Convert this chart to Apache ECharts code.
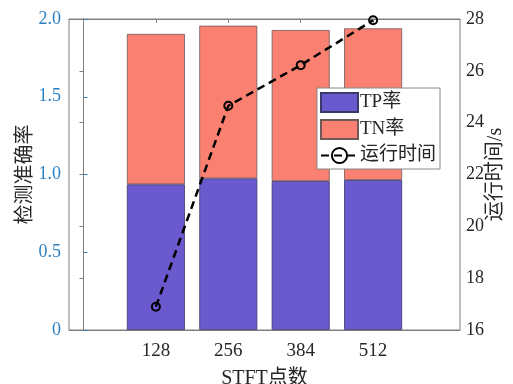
<!DOCTYPE html>
<html><head><meta charset="utf-8">
<script src="https://cdn.jsdelivr.net/npm/echarts@6/dist/echarts.min.js"></script>
<style>html,body{margin:0;padding:0;background:#fff}#c{width:513px;height:384px}</style>
</head><body><div id="c"></div>
<script>
const categories = ['128', '256', '384', '512'];
const tpRate = [0.937, 0.975, 0.958, 0.965];
const tnRate = [0.967, 0.982, 0.971, 0.975];
const runTime = [16.9, 24.65, 26.22, 27.95];
const leftTicks = [0, 0.5, 1.0, 1.5, 2.0];
const rightTicks = [16, 18, 20, 22, 24, 26, 28];

const pos = categories.map((c, i) => i + 1);
const serif = '"Liberation Serif", "Times New Roman", "Noto Sans CJK SC", serif';
const blue = '#2b7fc0';
const dark = '#262626';
const lineGray = '#808080';

const chart = echarts.init(document.getElementById('c'), null, {renderer: 'canvas'});
chart.setOption({
  animation: false,
  textStyle: {fontFamily: serif},
  grid: {left: 69, right: 53, top: 19, bottom: 54, show: true, borderColor: lineGray, borderWidth: 1,
    containLabel: false, outerBoundsMode: 'none'},
  legend: {
    left: 317, top: 88, orient: 'vertical',
    itemWidth: 37, itemHeight: 19, itemGap: 6,
    padding: [4, 4, 4, 3],
    backgroundColor: '#fff', borderColor: '#888', borderWidth: 1,
    textStyle: {fontFamily: serif, fontSize: 19, color: dark, padding: [0, 0, 0, -3]},
    data: [
      {name: 'TP率', icon: 'rect'},
      {name: 'TN率', icon: 'rect'},
      {name: '运行时间'}
    ]
  },
  xAxis: [{
    type: 'value', min: -0.2, max: 5.2,
    name: 'STFT点数', nameLocation: 'middle', nameGap: 39, nameMoveOverlap: false,
    nameTextStyle: {fontFamily: serif, fontSize: 20, color: dark},
    axisLine: {show: true, lineStyle: {color: lineGray}},
    axisTick: {show: true, inside: true, length: 4, customValues: pos, lineStyle: {color: lineGray}},
    axisLabel: {customValues: pos, margin: 12, fontSize: 19, color: dark, fontFamily: serif,
      formatter: v => categories[Math.round(v) - 1] || ''},
    splitLine: {show: false}
  }, {
    type: 'value', min: -0.2, max: 5.2, position: 'top',
    axisLine: {show: true, lineStyle: {color: lineGray}},
    axisTick: {show: true, inside: true, length: 4, customValues: pos, lineStyle: {color: lineGray}},
    axisLabel: {show: false},
    splitLine: {show: false}
  }],
  yAxis: [{
    type: 'value', min: 0, max: 2, interval: 0.5, position: 'left',
    name: '检测准确率', nameLocation: 'middle', nameGap: 33, nameRotate: 90, nameMoveOverlap: false,
    nameTextStyle: {fontFamily: serif, fontSize: 20, color: dark},
    axisLine: {show: true, lineStyle: {color: blue}},
    axisTick: {show: true, inside: true, length: 4, lineStyle: {color: blue}},
    axisLabel: {margin: 8, fontSize: 18, color: blue, fontFamily: serif,
      formatter: v => (leftTicks.indexOf(v) >= 0 ? (v === 0 ? '0' : v.toFixed(1)) : '')},
    splitLine: {show: false}
  }, {
    type: 'value', min: 16, max: 28, interval: 2, position: 'right',
    name: '运行时间/s', nameLocation: 'middle', nameGap: 26, nameRotate: 90, nameMoveOverlap: false,
    nameTextStyle: {fontFamily: serif, fontSize: 20, color: dark},
    axisLine: {show: true, lineStyle: {color: lineGray}},
    axisTick: {show: true, inside: true, length: 4, lineStyle: {color: lineGray}},
    axisLabel: {margin: 6, fontSize: 18, color: dark, fontFamily: serif,
      formatter: v => (rightTicks.indexOf(v) >= 0 ? String(v) : '')},
    splitLine: {show: false}
  }],
  series: [{
    name: 'TP率', type: 'bar', stack: 'acc', xAxisIndex: 0, yAxisIndex: 0,
    barWidth: 58,
    dimensions: ['rate', 'pos'], encode: {x: 'pos', y: 'rate'},
    itemStyle: {color: '#6a5acd', borderColor: '#3a3a6a', borderWidth: 0.8},
    data: pos.map((p, i) => [tpRate[i], p])
  }, {
    name: 'TN率', type: 'bar', stack: 'acc', xAxisIndex: 0, yAxisIndex: 0,
    barWidth: 58,
    dimensions: ['rate', 'pos'], encode: {x: 'pos', y: 'rate'},
    itemStyle: {color: '#fa8072', borderColor: '#6e5a58', borderWidth: 0.8},
    data: pos.map((p, i) => [tnRate[i], p])
  }, {
    name: '运行时间', type: 'line', xAxisIndex: 0, yAxisIndex: 1,
    symbol: 'circle', symbolSize: 8, showSymbol: true, z: 5,
    lineStyle: {color: '#000', width: 2.5, type: [8, 5]},
    itemStyle: {color: 'rgba(0,0,0,0)', borderColor: '#000', borderWidth: 2},
    data: pos.map((p, i) => [p, runTime[i]])
  }]
});
</script>
</body></html>
